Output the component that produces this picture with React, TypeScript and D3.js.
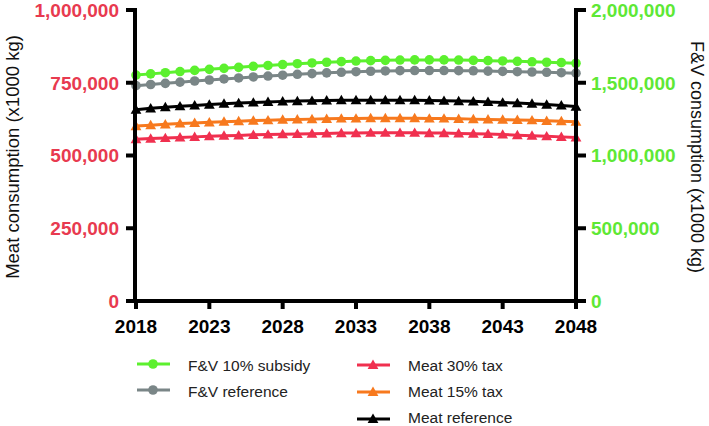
import React from "react";
import * as d3 from "d3";

const years: number[] = d3.range(2018, 2049);

const fvSubsidy: number[] = [1553, 1561, 1569, 1577, 1585, 1592, 1599, 1606, 1613, 1619, 1625, 1631, 1636, 1641, 1645, 1649, 1652, 1654, 1656, 1657, 1657, 1657, 1656, 1654, 1652, 1650, 1647, 1644, 1641, 1638, 1634].map((v) => v * 1000);
const fvReference: number[] = [1480, 1488, 1496, 1504, 1512, 1519, 1526, 1533, 1540, 1546, 1552, 1558, 1563, 1568, 1572, 1576, 1579, 1581, 1583, 1584, 1584, 1584, 1583, 1582, 1580, 1578, 1576, 1574, 1572, 1569, 1566].map((v) => v * 1000);
const meatReference: number[] = [657, 662, 666, 669, 672, 675, 678, 680, 682, 684, 686, 687, 688, 689, 690, 690, 690, 690, 690, 690, 689, 688, 687, 686, 684, 682, 680, 678, 675, 672, 668].map((v) => v * 1000);
const meat15: number[] = [601, 604, 607, 610, 612, 614, 616, 618, 620, 621, 623, 624, 625, 626, 627, 627, 628, 628, 628, 628, 627, 627, 626, 625, 624, 623, 622, 621, 619, 618, 616].map((v) => v * 1000);
const meat30: number[] = [556, 558, 560, 562, 564, 566, 568, 569, 571, 572, 573, 574, 575, 576, 577, 577, 578, 578, 578, 578, 577, 577, 576, 575, 574, 572, 570, 568, 566, 564, 562].map((v) => v * 1000);

const xTicks: number[] = [2018, 2023, 2028, 2033, 2038, 2043, 2048];
const leftTicks: number[] = [0, 250000, 500000, 750000, 1000000];
const rightTicks: number[] = [0, 500000, 1000000, 1500000, 2000000];

const GREEN = "#5cf02e";
const GRAY = "#7a8687";
const RED = "#f0304f";
const ORANGE = "#f7791e";
const BLACK = "#000000";
const LEFT_LABEL = "#e83a4f";
const RIGHT_LABEL = "#5ee835";

const FONT = "'Liberation Sans', Arial, Helvetica, sans-serif";

type Series = { name: string; values: number[]; color: string; shape: "circle" | "triangle"; axis: "left" | "right" };

const series: Series[] = [
  { name: "F&V 10% subsidy", values: fvSubsidy, color: GREEN, shape: "circle", axis: "right" },
  { name: "F&V reference", values: fvReference, color: GRAY, shape: "circle", axis: "right" },
  { name: "Meat 30% tax", values: meat30, color: RED, shape: "triangle", axis: "left" },
  { name: "Meat 15% tax", values: meat15, color: ORANGE, shape: "triangle", axis: "left" },
  { name: "Meat reference", values: meatReference, color: BLACK, shape: "triangle", axis: "left" },
];

const fmt = d3.format(",");

function Marker({ x, y, shape, color }: { x: number; y: number; shape: string; color: string }) {
  if (shape === "circle") return <circle cx={x} cy={y} r={4.8} fill={color} />;
  const s = 5.4;
  return <path d={`M${x},${y - s}L${x + s},${y + s * 0.75}L${x - s},${y + s * 0.75}Z`} fill={color} />;
}

export default function App() {
  const W = 709;
  const H = 426;
  const x = d3.scaleLinear().domain([2018, 2048]).range([136, 576]);
  const yL = d3.scaleLinear().domain([0, 1000000]).range([301, 10]);
  const yR = d3.scaleLinear().domain([0, 2000000]).range([301, 10]);

  const lineGen = (sc: d3.ScaleLinear<number, number>) =>
    d3.line<number>().x((_, i) => x(years[i])).y((d) => sc(d));

  const drawOrder = [4, 3, 2, 1, 0];

  const legendItems = [
    { s: series[0], lx: 137, rx: 170, mx: 153, my: 364, tx: 188, ty: 371 },
    { s: series[1], lx: 137, rx: 170, mx: 153, my: 390, tx: 188, ty: 397 },
    { s: series[2], lx: 357, rx: 390, mx: 373, my: 365, tx: 408, ty: 371 },
    { s: series[3], lx: 357, rx: 390, mx: 373, my: 392, tx: 408, ty: 397 },
    { s: series[4], lx: 357, rx: 390, mx: 373, my: 419, tx: 408, ty: 423 },
  ];

  return (
    <svg width={W} height={H} style={{ position: "absolute", left: 0, top: 0, background: "#fff" }} fontFamily={FONT}>
      <rect width={W} height={H} fill="#fff" />
      {drawOrder.map((k) => {
        const s = series[k];
        const sc = s.axis === "left" ? yL : yR;
        return (
          <g key={s.name}>
            <path d={lineGen(sc)(s.values) || ""} fill="none" stroke={s.color} strokeWidth={3} />
            {s.values.map((v, i) => (
              <Marker key={i} x={x(years[i])} y={sc(v)} shape={s.shape} color={s.color} />
            ))}
          </g>
        );
      })}
      <g stroke="#000" strokeWidth={4}>
        <line x1={135} x2={135} y1={8} y2={303} />
        <line x1={576} x2={576} y1={8} y2={303} />
        <line x1={126} x2={586} y1={301} y2={301} />
        {leftTicks.map((t) => (
          <line key={"l" + t} x1={126} x2={135} y1={yL(t)} y2={yL(t)} />
        ))}
        {rightTicks.map((t) => (
          <line key={"r" + t} x1={576} x2={586} y1={yR(t)} y2={yR(t)} />
        ))}
        {xTicks.map((t) => (
          <line key={"x" + t} x1={x(t)} x2={x(t)} y1={301} y2={309} />
        ))}
      </g>
      {leftTicks.map((t) => (
        <text key={"lt" + t} x={119} y={yL(t)} dy="0.36em" textAnchor="end" fontSize={19} fontWeight="bold" fill={LEFT_LABEL}>
          {fmt(t)}
        </text>
      ))}
      {rightTicks.map((t) => (
        <text key={"rt" + t} x={591} y={yR(t)} dy="0.36em" textAnchor="start" fontSize={19} fontWeight="bold" fill={RIGHT_LABEL}>
          {fmt(t)}
        </text>
      ))}
      {xTicks.map((t) => (
        <text key={"xt" + t} x={x(t)} y={333} textAnchor="middle" fontSize={19} fontWeight="bold" fill="#000">
          {t}
        </text>
      ))}
      <text transform="translate(19,157) rotate(-90)" textAnchor="middle" fontSize={18.5} fill="#111">
        Meat consumption (x1000 kg)
      </text>
      <text transform="translate(691,157) rotate(90)" textAnchor="middle" fontSize={18} fill="#111">
        F&amp;V consumption (x1000 kg)
      </text>
      {legendItems.map(({ s, lx, rx, mx, my, tx, ty }) => (
        <g key={"lg" + s.name}>
          <line x1={lx} x2={rx} y1={my} y2={my} stroke={s.color} strokeWidth={3} />
          <Marker x={mx} y={my} shape={s.shape} color={s.color} />
          <text x={tx} y={ty} fontSize={15.5} fill="#222">
            {s.name}
          </text>
        </g>
      ))}
    </svg>
  );
}
